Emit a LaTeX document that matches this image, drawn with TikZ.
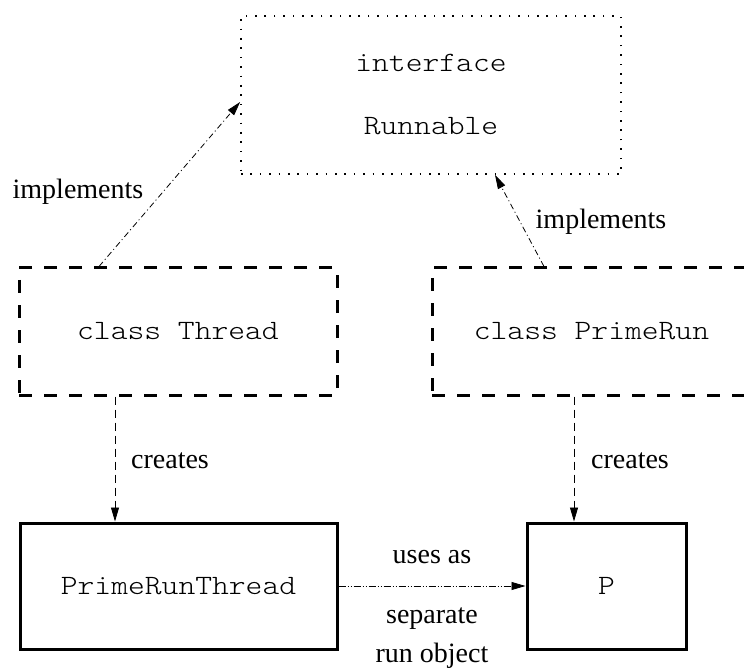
\documentclass[tikz,border=0pt]{standalone}
\usepackage{fontspec}
\setmainfont{Liberation Serif}
\newfontfamily\monofont[FakeStretch=1.143]{lmmonolt10-regular.otf}
\usetikzlibrary{arrows.meta,calc}
\begin{document}
\begin{tikzpicture}[x=1pt,y=-1pt,
  dotbox/.style={draw,line width=1.8pt,dash pattern=on 1.6pt off 7.8pt,rectangle,inner sep=0pt,
    font=\monofont\fontsize{28}{63}\selectfont,align=center},
  dashbox/.style={draw,line width=3pt,dash pattern=on 13pt off 12pt,rectangle,inner sep=0pt,
    font=\monofont\fontsize{28}{34}\selectfont},
  solidbox/.style={draw,line width=3pt,rectangle,inner sep=0pt,
    font=\monofont\fontsize{28}{34}\selectfont},
  lbl/.style={font=\fontsize{28}{34}\selectfont,anchor=base,inner sep=0pt},
  conn/.style={line width=0.8pt,-{Triangle[length=14pt,width=8pt]}},
  dashdot/.style={conn,dash pattern=on 6pt off 3pt on 1pt off 3pt},
  dashconn/.style={conn,dash pattern=on 8pt off 5pt},
  dashdotdot/.style={conn,dash pattern=on 7pt off 2pt on 1pt off 2pt on 1pt off 2pt}
]
\useasboundingbox (0,0) rectangle (744,668);
\node[dotbox,minimum width=380pt,minimum height=158pt] (iface) at (431,95) {interface\\Runnable};
\node[dashbox,minimum width=318pt,minimum height=127pt] (thread) at (178,331.5) {class Thread};
\node[dashbox,minimum width=319pt,minimum height=127pt] (primerun) at (591.5,331.5) {class PrimeRun};
\node[solidbox,minimum width=317pt,minimum height=126pt] (prt) at (178.5,586) {PrimeRunThread};
\node[solidbox,minimum width=159pt,minimum height=126pt] (p) at (606.5,586) {P};

\draw[dashdot] ([xshift=-79pt]thread.north) -- ([yshift=-7pt]iface.west);
\draw[dashdot] ([xshift=-47.5pt]primerun.north) -- ([xshift=64pt]iface.south);
\draw[dashconn] ([xshift=-63pt]thread.south) -- ([xshift=-63pt]thread.south |- prt.north);
\draw[dashconn] ([xshift=-17.5pt]primerun.south) -- ([xshift=-17.5pt]primerun.south |- p.north);
\draw[dashdotdot] (prt) -- (p);

\node[lbl] (impl1) at (78,199) {implements};
\node[lbl] (impl2) at (601,229) {implements};
\node[lbl] (cr1) at (170,468) {creates};
\node[lbl] (cr2) at (630,468) {creates};
\node[lbl] (uses) at (432,563) {uses as};
\node[lbl] (sep) at (432,623) {separate};
\node[lbl] (run) at (432,662) {run object};
\end{tikzpicture}
\end{document}
